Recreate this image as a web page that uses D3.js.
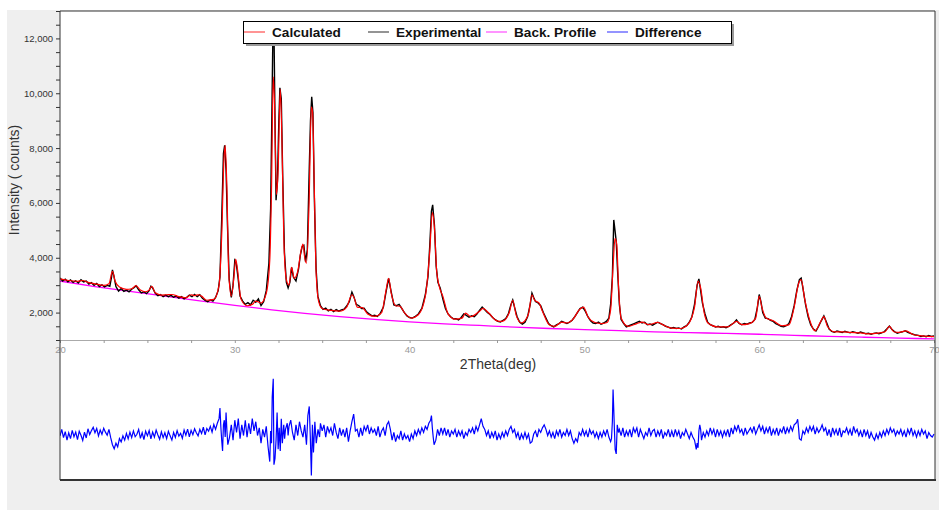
<!DOCTYPE html>
<html>
<head>
<meta charset="utf-8">
<script src="https://cdn.jsdelivr.net/npm/d3@7"></script>
<style>
    body { margin: 0; background: #fff; }
    svg { display: block; font-family: "Liberation Sans", Arial, sans-serif; }
    .tick-y text { fill: #333; font-size: 9.5px; }
    .tick-x text { fill: #999; font-size: 9.5px; }
    .axis-title { fill: #333; font-size: 14px; }
    .legend-label { font-weight: bold; font-size: 13.6px; fill: #111; }
</style>
</head>
<body>
<svg id="xrd-plot" width="939" height="510"></svg>
<script>
//////////////////////////////////////////////
/////   RIETVELD REFINEMENT PLOT (XRD)  //////
//////////////////////////////////////////////

// DATA: [2theta (deg), intensity (counts)]

const xTicks = [20, 30, 40, 50, 60, 70]
const yTicks = [2000, 4000, 6000, 8000, 10000, 12000]
const seriesNames = ['Calculated', 'Experimental', 'Back. Profile', 'Difference']

const calculated = [
    [20.0,3230],[20.5,3170],[21.0,3140],[21.3,3170],[21.6,3100],[22.0,3050],[22.5,2990],[22.8,3050],[23.0,3500],[23.15,3150],
    [23.4,2930],[23.8,2850],[24.1,2870],[24.35,2980],[24.6,2820],[24.9,2760],[25.1,2820],[25.25,2960],[25.45,2720],[25.8,2640],
    [26.1,2650],[26.4,2660],[26.8,2580],[27.2,2540],[27.5,2650],[27.7,2620],[27.9,2650],[28.1,2600],[28.4,2450],[28.8,2480],
    [29.1,3000],[29.25,4800],[29.38,7600],[29.45,8100],[29.55,6500],[29.65,3500],[29.8,2600],[29.95,3300],[30.05,3950],[30.15,3600],
    [30.35,2500],[30.7,2250],[31.0,2300],[31.2,2420],[31.5,2350],[31.8,2700],[32.0,3900],[32.1,6500],[32.2,10600],[32.28,9500],
    [32.38,6300],[32.48,7200],[32.6,10150],[32.7,8200],[32.8,4800],[32.95,3200],[33.1,3000],[33.25,3650],[33.4,3250],[33.6,3500],
    [33.8,4300],[33.9,4500],[34.0,4000],[34.1,3800],[34.25,6000],[34.38,9500],[34.45,9300],[34.55,6500],[34.65,3500],[34.8,2400],
    [35.0,2150],[35.5,2080],[36.0,2050],[36.4,2200],[36.7,2650],[36.85,2500],[37.0,2200],[37.3,2180],[37.6,1950],[38.0,1860],
    [38.4,2000],[38.65,2800],[38.8,3250],[38.95,2700],[39.2,2250],[39.45,2230],[39.7,2000],[40.1,1800],[40.5,1920],[40.9,2600],
    [41.15,4200],[41.3,5650],[41.42,5100],[41.55,3500],[41.7,2950],[41.9,2600],[42.2,1950],[42.6,1760],[43.0,1800],[43.2,1980],
    [43.5,1850],[44.0,2050],[44.2,2150],[44.5,2000],[45.0,1700],[45.3,1680],[45.7,2000],[45.9,2450],[46.1,1900],[46.4,1620],
    [46.8,1950],[47.0,2650],[47.15,2450],[47.4,2350],[47.6,2050],[48.0,1550],[48.3,1500],[48.7,1650],[49.0,1620],[49.4,1800],
    [49.7,2100],[49.95,2200],[50.2,1850],[50.6,1640],[51.0,1600],[51.3,1640],[51.5,2100],[51.65,3800],[51.75,4700],[51.85,4500],
    [51.95,3000],[52.1,1800],[52.5,1500],[53.0,1600],[53.3,1650],[53.7,1560],[54.2,1640],[54.5,1550],[55.0,1430],[55.5,1420],
    [55.9,1550],[56.3,2200],[56.5,3150],[56.65,2900],[56.85,2000],[57.1,1600],[57.6,1480],[58.2,1480],[58.7,1680],[59.0,1560],
    [59.4,1590],[59.8,1800],[60.0,2600],[60.15,2200],[60.4,1800],[60.8,1700],[61.3,1520],[61.7,1550],[62.0,2200],[62.25,3050],
    [62.4,3200],[62.6,2500],[62.9,1700],[63.2,1330],[63.5,1650],[63.7,1850],[63.9,1500],[64.3,1300],[64.8,1300],[65.2,1280],
    [65.8,1260],[66.3,1220],[66.8,1250],[67.2,1300],[67.45,1500],[67.7,1300],[68.0,1280],[68.4,1330],[68.8,1200],[69.3,1150],
    [69.7,1130],[70.0,1120]
]

const experimental = [
    [20.0,3260],[20.15,3150],[20.3,3220],[20.45,3120],[20.6,3190],[20.75,3100],[20.9,3160],[21.05,3080],[21.2,3200],[21.35,3120],
    [21.5,3150],[21.65,3040],[21.8,3090],[21.95,2990],[22.1,3060],[22.25,2950],[22.4,3010],[22.55,2940],[22.7,2990],[22.85,2960],
    [22.95,3300],[23.0,3560],[23.08,3350],[23.2,2950],[23.35,2780],[23.5,2880],[23.65,2770],[23.8,2820],[23.95,2760],[24.1,2850],
    [24.25,2920],[24.35,2980],[24.5,2830],[24.65,2720],[24.8,2760],[24.95,2690],[25.1,2800],[25.2,2960],[25.3,2900],[25.45,2700],
    [25.6,2620],[25.75,2660],[25.9,2580],[26.05,2640],[26.2,2580],[26.35,2630],[26.5,2560],[26.65,2600],[26.8,2530],[26.95,2580],
    [27.1,2500],[27.25,2560],[27.4,2640],[27.55,2580],[27.7,2660],[27.85,2580],[28.0,2650],[28.15,2520],[28.3,2440],[28.45,2400],
    [28.6,2460],[28.75,2420],[28.9,2550],[29.05,2800],[29.15,3300],[29.25,5400],[29.35,7800],[29.42,8100],[29.5,7200],[29.58,5200],
    [29.68,3200],[29.8,2550],[29.9,3000],[30.0,3900],[30.08,3800],[30.18,3300],[30.3,2600],[30.45,2420],[30.6,2300],[30.75,2360],
    [30.9,2280],[31.05,2450],[31.2,2380],[31.35,2500],[31.5,2260],[31.65,2400],[31.8,2800],[31.95,3800],[32.05,5800],[32.12,9200],
    [32.18,12200],[32.24,12400],[32.3,9000],[32.36,6100],[32.44,6800],[32.52,9000],[32.58,10200],[32.66,9800],[32.74,7000],[32.84,4200],
    [32.95,3100],[33.05,2900],[33.15,3100],[33.25,3650],[33.35,3300],[33.5,3150],[33.65,3600],[33.75,4100],[33.85,4400],[33.95,4450],
    [34.05,3850],[34.15,4300],[34.25,7000],[34.33,9000],[34.4,9870],[34.47,9300],[34.55,6200],[34.65,3600],[34.75,2600],[34.9,2250],
    [35.05,2120],[35.2,2160],[35.35,2060],[35.5,2120],[35.65,2040],[35.8,2110],[35.95,2050],[36.1,2100],[36.25,2120],[36.4,2240],
    [36.55,2400],[36.7,2750],[36.8,2600],[36.95,2300],[37.1,2250],[37.25,2150],[37.4,2160],[37.55,2020],[37.7,1950],[37.85,1880],
    [38.0,1900],[38.15,1860],[38.3,1950],[38.5,2200],[38.65,2750],[38.8,3250],[38.95,2750],[39.1,2280],[39.25,2250],[39.4,2300],
    [39.55,2150],[39.7,2000],[39.85,1880],[40.0,1820],[40.15,1800],[40.3,1850],[40.5,1950],[40.7,2150],[40.9,2650],[41.05,3300],
    [41.15,4400],[41.25,5700],[41.32,5930],[41.42,5200],[41.52,3700],[41.62,3100],[41.75,2900],[41.9,2500],[42.05,2150],[42.2,1950],
    [42.35,1850],[42.5,1770],[42.65,1780],[42.8,1730],[42.95,1820],[43.1,1950],[43.25,1900],[43.4,1830],[43.55,1880],[43.7,1850],
    [43.85,1950],[44.0,2080],[44.15,2200],[44.3,2100],[44.45,2000],[44.6,1930],[44.75,1820],[44.9,1740],[45.05,1680],[45.2,1660],
    [45.35,1720],[45.5,1780],[45.65,1950],[45.8,2300],[45.9,2460],[46.0,2200],[46.15,1850],[46.3,1650],[46.45,1580],[46.6,1650],
    [46.75,1850],[46.9,2300],[47.0,2710],[47.1,2550],[47.2,2400],[47.35,2350],[47.5,2250],[47.65,2000],[47.8,1800],[47.95,1600],
    [48.1,1520],[48.25,1480],[48.4,1550],[48.55,1600],[48.7,1680],[48.85,1640],[49.0,1600],[49.15,1650],[49.3,1720],[49.45,1850],
    [49.6,2000],[49.75,2150],[49.9,2200],[50.05,2050],[50.2,1850],[50.35,1700],[50.5,1620],[50.65,1600],[50.8,1650],[50.95,1580],
    [51.1,1620],[51.25,1680],[51.4,1800],[51.5,2300],[51.6,3300],[51.68,5380],[51.75,5000],[51.82,4600],[51.9,3500],[52.0,2300],
    [52.1,1750],[52.25,1600],[52.4,1480],[52.55,1520],[52.7,1560],[52.85,1600],[53.0,1640],[53.15,1680],[53.3,1620],[53.45,1650],
    [53.6,1560],[53.75,1580],[53.9,1540],[54.05,1600],[54.2,1650],[54.35,1600],[54.5,1560],[54.65,1500],[54.8,1470],[54.95,1430],
    [55.1,1460],[55.25,1420],[55.4,1440],[55.55,1400],[55.7,1480],[55.85,1520],[56.0,1650],[56.15,1850],[56.3,2300],[56.45,3000],
    [56.55,3230],[56.65,2800],[56.75,2350],[56.9,1950],[57.05,1650],[57.2,1560],[57.35,1520],[57.5,1470],[57.65,1500],[57.8,1460],
    [57.95,1480],[58.1,1450],[58.25,1500],[58.4,1560],[58.55,1620],[58.7,1730],[58.85,1600],[59.0,1560],[59.15,1600],[59.3,1580],
    [59.45,1620],[59.6,1640],[59.75,1750],[59.9,2200],[60.0,2660],[60.1,2400],[60.2,2000],[60.35,1800],[60.5,1780],[60.65,1720],
    [60.8,1680],[60.95,1600],[61.1,1550],[61.25,1500],[61.4,1480],[61.55,1520],[61.7,1600],[61.85,1850],[62.0,2250],[62.15,2800],
    [62.3,3200],[62.4,3260],[62.5,2900],[62.65,2300],[62.8,1850],[62.95,1550],[63.1,1400],[63.25,1330],[63.4,1500],[63.55,1700],
    [63.7,1880],[63.85,1650],[64.0,1400],[64.15,1310],[64.3,1280],[64.45,1330],[64.6,1300],[64.75,1270],[64.9,1320],[65.05,1290],
    [65.2,1260],[65.35,1300],[65.5,1280],[65.65,1250],[65.8,1290],[65.95,1260],[66.1,1230],[66.25,1250],[66.4,1210],[66.55,1240],
    [66.7,1260],[66.85,1230],[67.0,1260],[67.15,1300],[67.3,1400],[67.45,1510],[67.6,1380],[67.75,1300],[67.9,1250],[68.05,1280],
    [68.2,1300],[68.35,1340],[68.5,1280],[68.65,1240],[68.8,1210],[68.95,1180],[69.1,1170],[69.25,1130],[69.4,1150],[69.55,1120],
    [69.7,1160],[69.85,1130],[70.0,1150]
]

const background = [
    [20,3150],[22,2950],[24,2770],[26,2600],[28,2430],[30,2260],[32,2110],[34,1970],[36,1850],[38,1750],[40,1660],
    [42,1590],[44,1530],[46,1470],[48,1420],[50,1380],[52,1340],[54,1300],[56,1270],[58,1240],[60,1210],[62,1170],
    [64,1130],[66,1100],[68,1070],[70,1040]
]

const difference = [
    [20.0,-60],[20.1,150],[20.2,-120],[20.3,80],[20.4,-200],[20.5,40],[20.6,-150],[20.7,120],[20.8,-90],[20.9,60],
    [21.0,-180],[21.1,90],[21.2,-40],[21.3,-210],[21.4,60],[21.5,-130],[21.6,170],[21.7,-20],[21.8,110],[21.9,220],
    [22.0,40],[22.1,180],[22.2,-60],[22.3,130],[22.4,-10],[22.5,190],[22.6,60],[22.7,-40],[22.8,150],[22.9,-120],
    [23.0,-350],[23.1,-480],[23.2,-300],[23.3,-420],[23.4,-150],[23.5,-260],[23.6,-60],[23.7,-200],[23.8,20],[23.9,-160],
    [24.0,60],[24.1,-120],[24.2,100],[24.3,-90],[24.4,-10],[24.5,150],[24.6,-140],[24.7,40],[24.8,-180],[24.9,90],
    [25.0,-60],[25.1,110],[25.2,-160],[25.3,60],[25.4,-100],[25.5,130],[25.6,-30],[25.7,-170],[25.8,70],[25.9,-120],
    [26.0,40],[26.1,-150],[26.2,90],[26.3,-60],[26.4,-200],[26.5,50],[26.6,-110],[26.7,110],[26.8,-70],[26.9,20],
    [27.0,-140],[27.1,130],[27.2,-40],[27.3,160],[27.4,-90],[27.5,120],[27.6,-20],[27.7,170],[27.8,40],[27.9,-60],
    [28.0,150],[28.1,20],[28.2,220],[28.3,-30],[28.4,180],[28.5,90],[28.6,250],[28.7,60],[28.8,310],[28.9,150],
    [29.0,350],[29.1,500],[29.15,850],[29.2,250],[29.25,-200],[29.3,-550],[29.35,300],[29.4,450],[29.45,-100],[29.5,700],
    [29.55,100],[29.6,-350],[29.7,-100],[29.8,300],[29.9,-200],
    [30.0,450],[30.1,50],[30.2,500],[30.3,-150],[30.4,300],[30.5,-50],[30.6,450],[30.7,-100],[30.8,350],[30.9,0],
    [31.0,500],[31.1,100],[31.2,400],[31.3,-50],[31.4,200],[31.5,-300],[31.6,150],[31.7,-100],[31.8,250],[31.9,-400],
    [32.0,-900],[32.05,100],[32.1,-300],[32.14,1200],[32.2,1800],[32.24,-1000],[32.3,-800],[32.36,-200],[32.42,700],[32.48,-500],
    [32.54,200],[32.6,-550],[32.66,500],[32.72,-300],[32.8,300],[32.85,-150],[32.9,150],
    [33.0,350],[33.05,-50],[33.1,250],[33.2,450],[33.3,50],[33.4,-200],[33.5,300],[33.6,-50],[33.7,400],[33.8,100],[33.9,-100],
    [34.0,300],[34.1,-350],[34.18,600],[34.26,900],[34.32,-100],[34.38,-1350],[34.44,300],[34.5,-600],[34.58,400],[34.66,-300],
    [34.76,150],[34.85,-100],[34.9,350],
    [35.0,100],[35.1,300],[35.2,-100],[35.3,250],[35.4,50],[35.5,200],[35.6,-50],[35.7,350],[35.8,50],[35.9,-150],
    [36.0,200],[36.1,-50],[36.2,150],[36.3,-100],[36.4,200],[36.5,-250],[36.6,100],[36.7,400],[36.8,650],[36.9,100],
    [37.0,150],[37.1,-100],[37.2,200],[37.3,-50],[37.4,250],[37.5,100],[37.6,300],[37.7,0],[37.8,200],[37.9,50],
    [38.0,150],[38.1,-50],[38.2,250],[38.3,-100],[38.4,100],[38.5,200],[38.6,-50],[38.7,300],[38.8,400],[38.9,150],
    [39.0,-200],[39.1,50],[39.2,-250],[39.3,-50],[39.4,-150],[39.5,100],[39.6,-200],[39.7,0],[39.8,-150],[39.9,-50],
    [40.0,-250],[40.1,0],[40.2,-150],[40.3,100],[40.4,-50],[40.5,150],[40.6,0],[40.7,200],[40.8,50],[40.9,250],
    [41.0,150],[41.1,350],[41.2,450],[41.25,600],[41.3,200],[41.35,-100],[41.4,-350],[41.5,-200],[41.6,150],[41.7,-50],
    [41.8,200],[41.9,0],
    [42.0,200],[42.1,-50],[42.2,150],[42.3,-100],[42.4,100],[42.5,0],[42.6,150],[42.7,-100],[42.8,100],[42.9,-50],
    [43.0,100],[43.1,-150],[43.2,50],[43.3,-50],[43.4,150],[43.5,50],[43.6,200],[43.7,0],[43.8,250],[43.9,100],
    [44.0,300],[44.1,500],[44.2,250],[44.3,150],[44.4,-50],[44.5,100],[44.6,-150],[44.7,50],[44.8,-100],[44.9,100],
    [45.0,-200],[45.1,0],[45.2,-150],[45.3,50],[45.4,-100],[45.5,100],[45.6,-50],[45.7,150],[45.8,250],[45.9,50],
    [46.0,150],[46.1,-100],[46.2,50],[46.3,-200],[46.4,0],[46.5,-150],[46.6,50],[46.7,-150],[46.8,0],[46.9,-300],
    [47.0,-250],[47.1,0],[47.2,100],[47.3,-100],[47.4,150],[47.5,50],[47.6,200],[47.7,300],[47.8,150],[47.9,-50],
    [48.0,100],[48.1,-100],[48.2,50],[48.3,-150],[48.4,100],[48.5,-50],[48.6,150],[48.7,-100],[48.8,50],[48.9,-50],
    [49.0,150],[49.1,-50],[49.2,100],[49.3,-150],[49.4,-300],[49.5,-150],[49.6,-250],[49.7,50],[49.8,-50],[49.9,150],
    [50.0,-50],[50.1,100],[50.2,-100],[50.3,150],[50.4,0],[50.5,100],[50.6,-100],[50.7,50],[50.8,-150],[50.9,50],
    [51.0,-100],[51.1,100],[51.2,-50],[51.3,150],[51.4,-100],[51.5,-250],[51.55,-150],[51.6,400],[51.64,1450],[51.68,800],
    [51.72,100],[51.76,-500],[51.82,-650],[51.88,300],[51.95,50],
    [52.0,150],[52.1,-50],[52.2,200],[52.3,-100],[52.4,100],[52.5,-50],[52.6,150],[52.7,-100],[52.8,200],[52.9,50],
    [53.0,200],[53.1,-100],[53.2,150],[53.3,0],[53.4,-150],[53.5,50],[53.6,-50],[53.7,200],[53.8,-50],[53.9,100],
    [54.0,150],[54.1,-100],[54.2,100],[54.3,-50],[54.4,150],[54.5,-150],[54.6,50],[54.7,-50],[54.8,150],[54.9,-100],
    [55.0,100],[55.1,-100],[55.2,150],[55.3,-50],[55.4,100],[55.5,-150],[55.6,50],[55.7,-50],[55.8,150],[55.9,0],
    [56.0,-150],[56.1,50],[56.2,-100],[56.3,-200],[56.4,-500],[56.45,-300],[56.5,-450],[56.55,100],[56.6,300],[56.65,150],
    [56.7,-200],[56.8,50],[56.9,-100],
    [57.0,100],[57.1,-50],[57.2,200],[57.3,0],[57.4,150],[57.5,-100],[57.6,150],[57.7,-50],[57.8,100],[57.9,-100],
    [58.0,100],[58.1,-50],[58.2,150],[58.3,-100],[58.4,200],[58.5,0],[58.6,250],[58.7,100],[58.8,300],[58.9,50],
    [59.0,150],[59.1,-50],[59.2,200],[59.3,0],[59.4,100],[59.5,200],[59.6,50],[59.7,250],[59.8,0],[59.9,150],
    [60.0,300],[60.1,100],[60.2,250],[60.3,0],[60.4,200],[60.5,50],[60.6,250],[60.7,-50],[60.8,150],[60.9,0],
    [61.0,200],[61.1,-50],[61.2,150],[61.3,50],[61.4,250],[61.5,0],[61.6,200],[61.7,50],[61.8,250],[61.9,100],
    [62.0,300],[62.1,350],[62.15,400],[62.2,480],[62.25,200],[62.3,-150],[62.4,-200],[62.5,100],[62.6,0],[62.7,200],
    [62.8,50],[62.9,250],
    [63.0,100],[63.1,250],[63.2,0],[63.3,200],[63.4,50],[63.5,150],[63.6,300],[63.7,100],[63.8,200],[63.9,-50],
    [64.0,150],[64.1,-100],[64.2,200],[64.3,0],[64.4,150],[64.5,-50],[64.6,200],[64.7,-100],[64.8,100],[64.9,50],
    [65.0,200],[65.1,0],[65.2,150],[65.3,-50],[65.4,250],[65.5,50],[65.6,150],[65.7,-50],[65.8,100],[65.9,-100],
    [66.0,150],[66.1,-50],[66.2,100],[66.3,-150],[66.4,50],[66.5,-100],[66.6,-200],[66.7,0],[66.8,-150],[66.9,50],
    [67.0,-100],[67.1,100],[67.2,-50],[67.3,150],[67.4,0],[67.5,200],[67.6,50],[67.7,150],[67.8,-50],[67.9,100],
    [68.0,0],[68.1,150],[68.2,-50],[68.3,100],[68.4,-100],[68.5,150],[68.6,0],[68.7,200],[68.8,-50],[68.9,100],
    [69.0,-100],[69.1,100],[69.2,-50],[69.3,150],[69.4,0],[69.5,100],[69.6,-150],[69.7,50],[69.8,-50],[69.9,-100],
    [70.0,0]
]


// SETTINGS (layout and styling only)
const settings = {
    svgID: 'xrd-plot',
    dims: {
        panelX: 7, panelY: 10, panelW: 932, panelH: 500,     // grey window background
        left: 60, right: 935, top: 11, mainBottom: 340, diffBottom: 480
    },
    colours: {
        calculated:   '#ff0000',
        experimental: '#000000',
        background:   '#ff00ff',
        difference:   '#0000ff'
    },
    legend: {
        x: 243, y: 21, width: 488, height: 22,
        itemX: [244, 368, 486, 607],
        swatchColours: ['#ff5a5a', '#5a5a5a', '#ff5aff', '#5a5aff']
    }
}


// I. BUILD
buildChart(settings)

function buildChart(settings){
    const d = settings.dims,
        svg = d3.select(`#${settings.svgID}`)

    // 1. Scales
    const x = d3.scaleLinear().domain([20, 70]).range([d.left, d.right - 1]),
        y = d3.scaleLinear().domain([1000, 13000]).range([d.mainBottom, d.top]),
        yDiff = d3.scaleLinear().domain([-1500, 3000]).range([d.diffBottom, d.mainBottom + 2])

    // 2. Window background and plot area
    svg.append('rect')
        .attr('x', d.panelX).attr('y', d.panelY)
        .attr('width', d.panelW).attr('height', d.panelH)
        .attr('fill', '#efefef')
    svg.append('rect')
        .attr('x', d.left).attr('y', d.top)
        .attr('width', d.right - d.left).attr('height', d.diffBottom - d.top)
        .attr('fill', '#fff')

    const defs = svg.append('defs')
    defs.append('clipPath').attr('id', 'clip-main')
        .append('rect').attr('x', d.left).attr('y', d.top).attr('width', d.right - d.left).attr('height', d.mainBottom - d.top)
    defs.append('clipPath').attr('id', 'clip-diff')
        .append('rect').attr('x', d.left).attr('y', d.mainBottom + 1).attr('width', d.right - d.left).attr('height', d.diffBottom - d.mainBottom - 1)

    // 3. Axes
    const xAxis = d3.axisBottom(x)
        .tickValues(d3.range(20, 70.01, 2.5))
        .tickSize(3).tickPadding(3)
        .tickFormat(v => xTicks.includes(v) ? v : '')
    svg.append('g').attr('class', 'tick-x')
        .attr('transform', `translate(0,${d.mainBottom})`)
        .call(xAxis)
        .call(g => g.select('.domain').attr('stroke', '#aaa'))
        .call(g => g.selectAll('.tick line').attr('stroke', '#999'))
        .call(g => g.selectAll('text').attr('font-family', null).attr('font-size', null))

    const yAxis = d3.axisLeft(y)
        .tickValues(d3.range(1000, 13000.1, 500))
        .tickSize(4).tickPadding(3)
        .tickFormat(v => yTicks.includes(v) ? d3.format(',')(v) : '')
    svg.append('g').attr('class', 'tick-y')
        .attr('transform', `translate(${d.left},0)`)
        .call(yAxis)
        .call(g => g.select('.domain').remove())
        .call(g => g.selectAll('.tick line').attr('stroke', '#333'))
        .call(g => g.selectAll('text').attr('font-family', null).attr('font-size', null))

    // 4. Series
    const line = (yScale, curve) => d3.line()
        .x(p => x(p[0]))
        .y(p => yScale(p[1]))
        .curve(curve)

    const main = svg.append('g').attr('clip-path', 'url(#clip-main)')
    main.append('path').datum(background)
        .attr('d', line(y, d3.curveMonotoneX))
        .attr('fill', 'none').attr('stroke', settings.colours.background).attr('stroke-width', 1.3)
    main.append('path').datum(experimental)
        .attr('d', line(y, d3.curveLinear))
        .attr('fill', 'none').attr('stroke', settings.colours.experimental).attr('stroke-width', 1.4)
    main.append('path').datum(calculated)
        .attr('d', line(y, d3.curveMonotoneX))
        .attr('fill', 'none').attr('stroke', settings.colours.calculated).attr('stroke-width', 1.2)

    svg.append('g').attr('clip-path', 'url(#clip-diff)')
        .append('path').datum(difference)
        .attr('d', line(yDiff, d3.curveLinear))
        .attr('fill', 'none').attr('stroke', settings.colours.difference).attr('stroke-width', 1.2)

    // 5. Frame
    const frame = svg.append('g').attr('fill', 'none')
    frame.append('path')
        .attr('d', `M${d.left},${d.diffBottom}V${d.top}H${d.right}V${d.diffBottom}`)
        .attr('stroke', '#333').attr('stroke-width', 1)
    frame.append('path')
        .attr('d', `M${d.left},${d.diffBottom}H${d.right + 1}`)
        .attr('stroke', '#333').attr('stroke-width', 2)

    // 6. Axis titles
    svg.append('text').attr('class', 'axis-title')
        .attr('x', (d.left + d.right) / 2 + 0.5).attr('y', 369)
        .attr('text-anchor', 'middle')
        .text('2Theta(deg)')
    svg.append('text').attr('class', 'axis-title')
        .attr('transform', `translate(19,180) rotate(-90)`)
        .attr('text-anchor', 'middle')
        .text('Intensity ( counts)')

    // 7. Legend
    const lg = settings.legend,
        legend = svg.append('g')
    legend.append('rect')
        .attr('x', lg.x + 3).attr('y', lg.y + 3).attr('width', lg.width).attr('height', lg.height)
        .attr('fill', '#9a9a9a')
    legend.append('rect')
        .attr('x', lg.x + 0.5).attr('y', lg.y + 0.5).attr('width', lg.width).attr('height', lg.height)
        .attr('fill', '#fff').attr('stroke', '#000')

    seriesNames.forEach((name, i) => {
        const ix = lg.itemX[i],
            cy = lg.y + 11
        legend.append('line')
            .attr('x1', ix).attr('x2', ix + 21).attr('y1', cy).attr('y2', cy)
            .attr('stroke', lg.swatchColours[i]).attr('stroke-width', 1.3)
        legend.append('text').attr('class', 'legend-label')
            .attr('x', ix + 28).attr('y', cy + 5)
            .text(name)
    })
}
</script>
</body>
</html>
